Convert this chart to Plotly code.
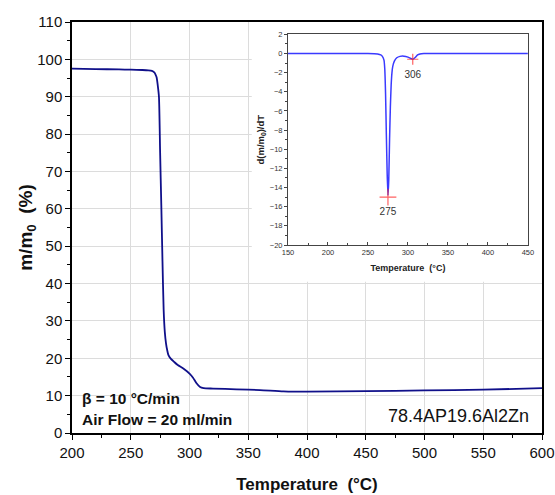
import plotly.graph_objects as go

# Main TGA curve
temp_tga = [200, 220, 240, 250, 260, 265, 268, 270, 271, 272, 273, 274, 275, 276, 277,
            278, 279, 280, 281, 282, 284, 287, 290, 295, 300, 303, 306, 309, 312, 320,
            340, 360, 380, 400, 450, 500, 550, 600]
mass_pct = [97.5, 97.4, 97.3, 97.25, 97.15, 97.05, 96.9, 96.5, 96.0, 95.2, 93.0, 90.0,
            75.0, 61.0, 46.0, 33.0, 27.0, 24.0, 22.2, 20.9, 19.9, 19.0, 18.2, 17.2,
            15.9, 14.8, 13.3, 12.3, 12.0, 11.9, 11.7, 11.5, 11.15, 11.05, 11.2, 11.4,
            11.6, 12.0]

# Inset DTG curve
temp_dtg = [150, 200, 250, 262, 266, 268, 270, 271, 272, 273, 274, 275, 276, 277, 278,
            279, 280, 281, 283, 286, 290, 295, 300, 303, 306, 309, 312, 315, 320, 350,
            400, 450]
dtg = [0.0, 0.0, 0.0, -0.05, -0.15, -0.3, -0.7, -1.6, -4.2, -8.5, -12.5, -14.8, -13.2,
       -9.0, -5.6, -3.3, -2.0, -1.35, -0.8, -0.45, -0.3, -0.28, -0.38, -0.5, -0.6,
       -0.42, -0.15, -0.05, 0.0, 0.0, 0.0, 0.0]

peak_temps = [275, 306]
peak_vals = [-15.0, -0.6]
peak_labels = ["275", "306"]

main_line = "#10108a"
inset_line = "#3a3aff"
font_family = "Arial, Liberation Sans, sans-serif"

fig = go.Figure()

fig.add_trace(go.Scatter(x=temp_tga, y=mass_pct, mode="lines",
                         line=dict(color=main_line, width=1.8, shape="spline", smoothing=0.6),
                         xaxis="x", yaxis="y", showlegend=False, hoverinfo="skip"))

fig.add_trace(go.Scatter(x=temp_dtg, y=dtg, mode="lines",
                         line=dict(color=inset_line, width=1.5, shape="spline", smoothing=0.5),
                         xaxis="x2", yaxis="y2", showlegend=False, hoverinfo="skip"))

fig.add_trace(go.Scatter(x=peak_temps, y=peak_vals, mode="markers",
                         marker=dict(symbol="cross-thin", size=[12, 8],
                                     line=dict(color="#ff2020", width=1.2)),
                         xaxis="x2", yaxis="y2", showlegend=False, hoverinfo="skip"))

fig.add_trace(go.Scatter(x=peak_temps, y=[v - 1.65 for v in peak_vals], mode="text",
                         text=peak_labels, textposition="middle center",
                         textfont=dict(family=font_family, size=10, color="#333"),
                         xaxis="x2", yaxis="y2", showlegend=False, hoverinfo="skip"))

# white background for the inset area (above main gridlines)
fig.add_shape(type="rect", xref="x", yref="y", x0=353, x1=600, y0=40.5, y1=110,
              fillcolor="white", line=dict(width=0), layer="between")

fig.update_layout(
    width=555, height=495,
    margin=dict(l=72, r=13, t=22, b=62),
    paper_bgcolor="white", plot_bgcolor="white",
    font=dict(family=font_family, color="#111"),
    xaxis=dict(domain=[0, 1], range=[200, 600], dtick=50, tick0=200, automargin=False,
               showgrid=True, gridcolor="#dcdcdc", gridwidth=1,
               showline=True, linecolor="black", linewidth=1.5, mirror=True,
               ticks="outside", ticklen=5, tickwidth=1.2, tickcolor="black",
               minor=dict(dtick=25, ticks="outside", ticklen=3, tickcolor="black", showgrid=False),
               tickfont=dict(size=15, color="#111"), zeroline=False,
               title=dict(text="<b>Temperature  (°C)</b>", font=dict(size=17, color="#111"),
                          standoff=18)),
    yaxis=dict(domain=[0, 1], range=[0, 110], dtick=10, tick0=0, automargin=False,
               showgrid=True, gridcolor="#dcdcdc", gridwidth=1,
               showline=True, linecolor="black", linewidth=1.5, mirror=True,
               ticks="outside", ticklen=5, tickwidth=1.2, tickcolor="black",
               minor=dict(dtick=5, ticks="outside", ticklen=3, tickcolor="black", showgrid=False),
               tickfont=dict(size=15, color="#111"), zeroline=False,
               title=dict(text="<b>m/m<sub>0</sub>  (%)</b>", font=dict(size=19, color="#111"),
                          standoff=0)),
    xaxis2=dict(domain=[0.4596, 0.970], anchor="y2", range=[150, 450], dtick=50, tick0=150,
                showgrid=False, zeroline=False, automargin=False,
                showline=True, linecolor="#444", linewidth=1, mirror=True,
                ticks="inside", ticklen=3, tickcolor="#444",
                minor=dict(dtick=25, ticks="inside", ticklen=2, tickcolor="#444"),
                tickfont=dict(size=7.5, color="#333"),
                title=dict(text="<b>Temperature  (°C)</b>", font=dict(size=9, color="#222"),
                           standoff=8)),
    yaxis2=dict(domain=[0.4574, 0.970], anchor="x2", range=[-20, 2], dtick=2, tick0=0,
                showgrid=False, zeroline=False, automargin=False,
                showline=True, linecolor="#444", linewidth=1, mirror=True,
                ticks="outside", ticklen=3, tickcolor="#444",
                minor=dict(dtick=1, ticks="outside", ticklen=2, tickcolor="#444"),
                tickfont=dict(size=7.5, color="#333"),
                title=dict(text="<b>d(m/m<sub>0</sub>)/dT</b>", font=dict(size=9.5, color="#222"),
                           standoff=3)),
    annotations=[
        dict(xref="paper", yref="paper", x=0.017, y=0.085, xanchor="left", yanchor="middle",
             text="<b>β = 10 °C/min</b>", showarrow=False,
             font=dict(size=15.5, color="#111")),
        dict(xref="paper", yref="paper", x=0.017, y=0.034, xanchor="left", yanchor="middle",
             text="<b>Air Flow = 20 ml/min</b>", showarrow=False,
             font=dict(size=15.5, color="#111")),
        dict(xref="paper", yref="paper", x=0.977, y=0.041, xanchor="right", yanchor="middle",
             text="78.4AP19.6Al2Zn", showarrow=False,
             font=dict(size=18, color="#111")),
    ],
)

fig.write_html("out.html", config={"displayModeBar": False},
               post_script="document.body.style.margin='0px';document.body.style.overflow='hidden';")
